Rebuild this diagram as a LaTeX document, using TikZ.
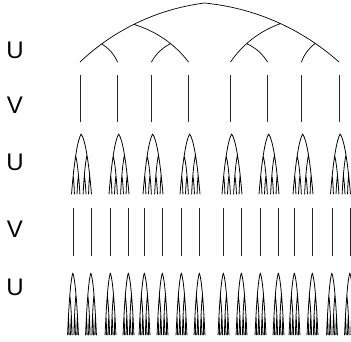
\documentclass[tikz,border=0pt]{standalone}
\usepackage{fontspec}
\setmainfont{Liberation Sans}
\def\kk{0.344}
\def\bend{18}
\gdef\treepath{}
\newcommand\setleg[5]{%
  \pgfmathsetmacro\lPx{#1}\pgfmathsetmacro\lPy{#2}%
  \pgfmathsetmacro\lFx{#3}\pgfmathsetmacro\lFy{#4}%
  \pgfmathsetmacro\ldx{(\lFx)-(\lPx)}\pgfmathsetmacro\ldy{(\lFy)-(\lPy)}%
  \pgfmathsetmacro\lc{cos(\bend)}\pgfmathsetmacro\ls{(#5)*sin(\bend)}%
  \pgfmathsetmacro\lAx{(\lPx)+\kk*((\ldx)*(\lc)-(\ldy)*(\ls))}%
  \pgfmathsetmacro\lAy{(\lPy)+\kk*((\ldx)*(\ls)+(\ldy)*(\lc))}%
  \pgfmathsetmacro\lBx{(\lFx)-\kk*((\ldx)*(\lc)+(\ldy)*(\ls))}%
  \pgfmathsetmacro\lBy{(\lFy)-\kk*((\ldy)*(\lc)-(\ldx)*(\ls))}%
  \xdef\treepath{\treepath (\lPx,\lPy) .. controls (\lAx,\lAy) and (\lBx,\lBy) .. (\lFx,\lFy)}%
}
\newcommand\legpt[3]{%
  \pgfmathsetmacro\legT{#1}%
  \pgfmathsetmacro\legU{1-\legT}%
  \pgfmathsetmacro#2{\legU*\legU*\legU*(\lPx)+3*\legU*\legU*\legT*(\lAx)+3*\legU*\legT*\legT*(\lBx)+\legT*\legT*\legT*(\lFx)}%
  \pgfmathsetmacro#3{\legU*\legU*\legU*(\lPy)+3*\legU*\legU*\legT*(\lAy)+3*\legU*\legT*\legT*(\lBy)+\legT*\legT*\legT*(\lFy)}%
}
% base tree: feet centre at x=0, apex at y=0, feet at y=59
\setleg{-5}{0}{-129.5}{59}{1}
\legpt{0.53}{\Bax}{\Bay}
\legpt{0.8}{\Cax}{\Cay}
\setleg{-5}{0}{129.5}{59}{-1}
\legpt{0.53}{\Bbx}{\Bby}
\legpt{0.8}{\Cdx}{\Cdy}
\setleg{\Bax}{\Bay}{-21}{59}{-1}
\legpt{0.62}{\Cbx}{\Cby}
\setleg{\Bbx}{\Bby}{21}{59}{1}
\legpt{0.62}{\Ccx}{\Ccy}
\setleg{\Cax}{\Cay}{-92}{59}{-1}
\setleg{\Cbx}{\Cby}{-58}{59}{1}
\setleg{\Ccx}{\Ccy}{58}{59}{-1}
\setleg{\Cdx}{\Cdy}{92}{59}{1}
\newcommand\drawtree[5]{%
  \begin{scope}[shift={(#1,#2)},xscale=#3,yscale=#4]
    \edef\tmptree{\noexpand\draw[treeline,line width=#5] \treepath;}\tmptree
  \end{scope}}
\begin{document}
\begin{tikzpicture}[x=1pt,y=-1pt,
  treeline/.style={black,line cap=round},
  vline/.style={line width=0.7pt,black!85},
  lab/.style={font=\fontsize{24}{28}\selectfont,inner sep=0pt}]
\useasboundingbox (0,0) rectangle (351,341);
\node[lab] (u1) at (15,50) {U};
\node[lab] (v1) at (15,105) {V};
\node[lab] (u2) at (15,162) {U};
\node[lab] (v2) at (15,229) {V};
\node[lab] (u3) at (15,287) {U};
\drawtree{209.5}{3}{1}{1}{0.7pt}
\foreach \L in {-129.5,-92,-58,-21,21,58,92,129.5} {
  \pgfmathsetmacro\X{209.5+\L}
  \draw[vline] (\X,75) -- (\X,122);
  \drawtree{\X+1.5}{134}{0.077}{1.017}{0.8pt}
  \foreach \o in {-9,9} {
    \pgfmathsetmacro\Y{\X+2+\o}
    \draw[vline] (\Y,208) -- (\Y,256);
    \drawtree{\Y}{273}{0.042}{1.05}{0.8pt}
  }
}
\end{tikzpicture}
\end{document}
